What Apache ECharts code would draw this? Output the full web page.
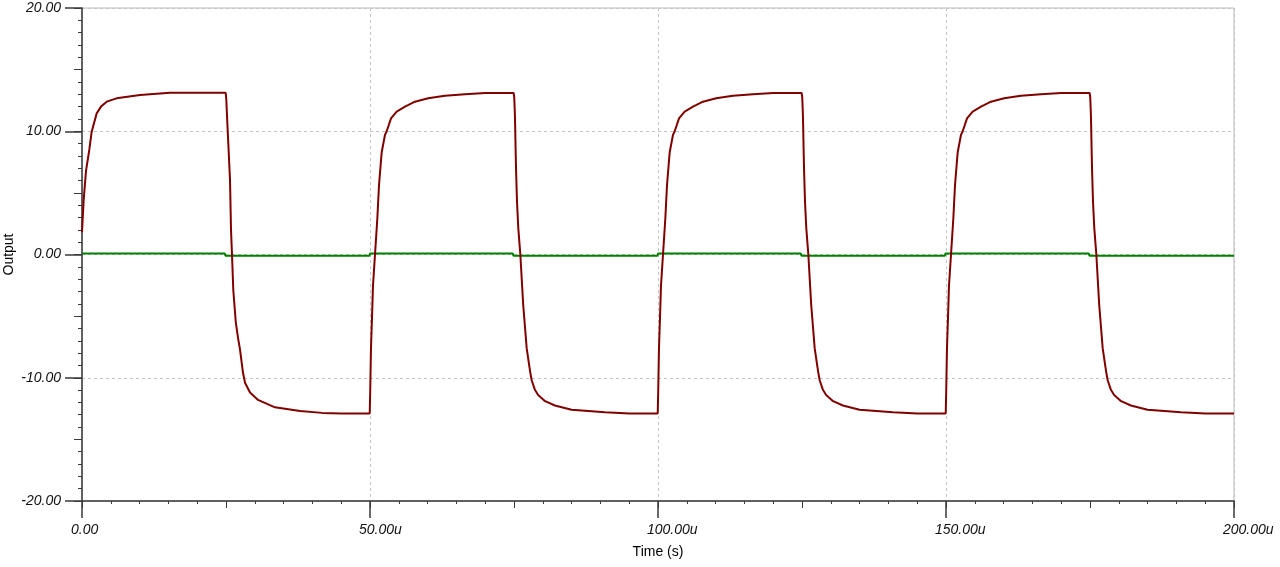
<!DOCTYPE html>
<html>
<head>
<meta charset="utf-8">
<script src="https://cdn.jsdelivr.net/npm/echarts@6/dist/echarts.min.js"></script>
<style>
html,body{margin:0;padding:0;background:#fff;}
#chart{width:1280px;height:567px;}
</style>
</head>
<body>
<div id="chart"></div>
<script>
// Time in microseconds (u)
const xTicks = [0, 50, 100, 150, 200];
const yTicks = [-20, -10, 0, 10, 20];

// Output (dark red) trace: [time (u), volts]
const outputPoints = [
  [0,1.8],[0.3,4.5],[0.7,6.8],[1.27,8.5],[1.68,9.96],[2.55,11.45],[3.3,12.0],[4.29,12.4],[6.0,12.67],[10.07,12.94],[15.3,13.12],[24.95,13.12],
  [25.05,12.6],[25.2,11.0],[25.4,9.0],[25.7,6.0],[25.87,2.0],[26.04,0],[26.27,-2.9],[26.7,-5.5],[27.1,-6.8],[27.43,-7.7],[27.95,-9.6],[28.3,-10.4],[29.17,-11.2],[30.56,-11.8],[33.5,-12.4],[37.85,-12.7],[41.7,-12.85],[45,-12.9],[49.95,-12.9],
  [50.05,-10.8],[50.17,-7.6],[50.35,-5.1],[50.52,-2.5],[50.87,0],[51.27,2.9],[51.56,5.6],[52.03,8.3],[52.6,9.7],[52.9,10.0],[53.65,11.05],[54.63,11.6],[56.08,12.0],[57.8,12.4],[60.1,12.67],[63.0,12.88],[66.5,13.0],[70,13.1],[74.95,13.1],
  [75.05,12.7],[75.17,11.1],[75.35,7.0],[75.52,4.3],[75.75,2.1],[76.1,0],[76.6,-4.1],[77.2,-7.6],[77.8,-9.5],[78.07,-10.2],[78.65,-11.0],[79.2,-11.4],[80.4,-11.9],[82.1,-12.25],[85.0,-12.6],[90.8,-12.8],[95,-12.9],[99.95,-12.9],
  [100.05,-10.8],[100.17,-7.6],[100.35,-5.1],[100.52,-2.5],[100.87,0],[101.27,2.9],[101.56,5.6],[102.03,8.3],[102.6,9.7],[102.9,10.0],[103.65,11.05],[104.63,11.6],[106.08,12.0],[107.8,12.4],[110.1,12.67],[113.0,12.88],[116.5,13.0],[120,13.1],[124.95,13.1],
  [125.05,12.7],[125.17,11.1],[125.35,7.0],[125.52,4.3],[125.75,2.1],[126.1,0],[126.6,-4.1],[127.2,-7.6],[127.8,-9.5],[128.07,-10.2],[128.65,-11.0],[129.2,-11.4],[130.4,-11.9],[132.1,-12.25],[135.0,-12.6],[140.8,-12.8],[145,-12.9],[149.95,-12.9],
  [150.05,-10.8],[150.17,-7.6],[150.35,-5.1],[150.52,-2.5],[150.87,0],[151.27,2.9],[151.56,5.6],[152.03,8.3],[152.6,9.7],[152.9,10.0],[153.65,11.05],[154.63,11.6],[156.08,12.0],[157.8,12.4],[160.1,12.67],[163.0,12.88],[166.5,13.0],[170,13.1],[174.95,13.1],
  [175.05,12.7],[175.17,11.1],[175.35,7.0],[175.52,4.3],[175.75,2.1],[176.1,0],[176.6,-4.1],[177.2,-7.6],[177.8,-9.5],[178.07,-10.2],[178.65,-11.0],[179.2,-11.4],[180.4,-11.9],[182.1,-12.25],[185.0,-12.6],[190.8,-12.8],[195,-12.9],[200,-12.9]
];

// Input (green) trace: [time (u), volts]
const inputPoints = [
  [0,0.08],[24.8,0.08],[24.9,-0.1],[49.9,-0.1],[50.0,0.08],[74.8,0.08],[74.9,-0.1],
  [99.9,-0.1],[100.0,0.08],[124.8,0.08],[124.9,-0.1],[149.8,-0.1],[149.9,0.08],
  [174.8,0.08],[174.9,-0.1],[200,-0.1]
];

const FONT = "'Liberation Sans', Arial, sans-serif";
const axisColor = '#3a3a3a';

const chart = echarts.init(document.getElementById('chart'), null, {renderer: 'canvas'});
chart.setOption({
  animation: false,
  backgroundColor: '#ffffff',
  grid: [
    {left: 82, right: 46, top: 8, bottom: 66, show: true, borderColor: '#b8b8b8', borderWidth: 1, backgroundColor: 'transparent', containLabel: false, outerBoundsMode: 'none'},
    {left: 82, right: 46, top: 8, bottom: 66, show: false, containLabel: false, outerBoundsMode: 'none'}
  ],
  xAxis: [
    {
      type: 'value', gridIndex: 0, min: xTicks[0], max: xTicks[xTicks.length - 1], interval: 50,
      name: 'Time (s)', nameLocation: 'middle', nameGap: 44, nameMoveOverlap: false,
      nameTextStyle: {fontFamily: FONT, fontSize: 14, color: '#000'},
      axisLine: {show: true, onZero: false, lineStyle: {color: axisColor, width: 1.5}},
      axisTick: {show: true, length: 17, lineStyle: {color: axisColor, width: 1.5}},
      minorTick: {show: true, splitNumber: 10, length: 3, lineStyle: {color: axisColor, width: 1}},
      axisLabel: {
        show: true, margin: 22, fontFamily: FONT, fontSize: 14, fontStyle: 'italic', color: '#111',
        align: 'left', padding: [0, 0, 0, -11],
        formatter: v => v === 0 ? '0.00' : v.toFixed(2) + 'u'
      },
      splitLine: {show: true, lineStyle: {color: '#c4c4c4', type: [3, 3], width: 1}},
      minorSplitLine: {show: false}
    },
    {
      type: 'value', gridIndex: 1, min: 0, max: 200, interval: 25, position: 'bottom',
      axisLine: {show: false, onZero: false},
      axisTick: {show: true, length: 7, lineStyle: {color: axisColor, width: 1}},
      axisLabel: {show: false}, splitLine: {show: false}
    }
  ],
  yAxis: [
    {
      type: 'value', gridIndex: 0, min: yTicks[0], max: yTicks[yTicks.length - 1], interval: 10,
      name: 'Output', nameLocation: 'middle', nameGap: 66, nameRotate: 90, nameMoveOverlap: false,
      nameTextStyle: {fontFamily: FONT, fontSize: 14, color: '#000'},
      axisLine: {show: true, onZero: false, lineStyle: {color: axisColor, width: 1.5}},
      axisTick: {show: true, length: 17, lineStyle: {color: axisColor, width: 1.5}},
      minorTick: {show: true, splitNumber: 10, length: 4, lineStyle: {color: axisColor, width: 1}},
      axisLabel: {
        show: true, margin: 21, fontFamily: FONT, fontSize: 14, fontStyle: 'italic', color: '#111',
        formatter: v => v.toFixed(2)
      },
      splitLine: {show: true, lineStyle: {color: '#c4c4c4', type: [3, 3], width: 1}},
      minorSplitLine: {show: false}
    },
    {
      type: 'value', gridIndex: 1, min: -20, max: 20, interval: 5, position: 'left',
      axisLine: {show: false, onZero: false},
      axisTick: {show: true, length: 8, lineStyle: {color: axisColor, width: 1}},
      axisLabel: {show: false}, splitLine: {show: false}
    }
  ],
  series: [
    {
      name: 'Input', type: 'line', xAxisIndex: 0, yAxisIndex: 0,
      data: inputPoints, showSymbol: false, symbol: 'none',
      lineStyle: {color: '#008000', width: 2}, z: 3
    },
    {
      name: 'Output', type: 'line', xAxisIndex: 0, yAxisIndex: 0,
      data: outputPoints, showSymbol: false, symbol: 'none',
      lineStyle: {color: '#800000', width: 2}, z: 4
    }
  ]
});
</script>
</body>
</html>
